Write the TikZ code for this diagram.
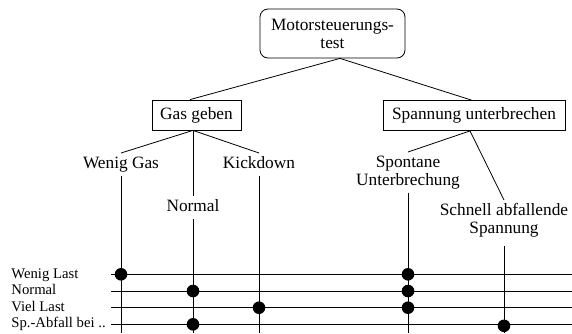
\documentclass[tikz,border=0pt]{standalone}
\usepackage{fontspec}
\setmainfont{Liberation Serif}
\begin{document}
\begin{tikzpicture}[x=1pt,y=-1pt,line width=0.8pt,
  every node/.style={font=\fontsize{17.3}{18}\selectfont},
  topbox/.style={draw,rounded corners=8pt,align=center,minimum width=145pt,minimum height=49pt,inner sep=0pt},
  midbox/.style={draw,minimum height=30pt,inner sep=0pt},
  leaf/.style={anchor=north,align=center,inner xsep=0pt,inner ysep=2pt},
  rowlabel/.style={anchor=base west,inner sep=0pt,font=\fontsize{14.7}{15}\selectfont},
  rowline/.style={line width=0.8pt},
  dot/.style={fill=black}]
\useasboundingbox (0,0) rectangle (572,333);
\node[topbox] (top) at (332.5,33.5) {Motorsteuerungs-\\test};
\node[midbox,minimum width=89pt] (gas) at (196.5,115) {Gas geben};
\node[midbox,minimum width=182pt] (span) at (474,115.5) {Spannung unterbrechen};
\node[leaf] (wg) at (121,153) {\strut Wenig Gas};
\node[leaf] (no) at (193,196) {\strut Normal};
\node[leaf] (kd) at (259,153) {\strut Kickdown};
\node[leaf] (sp) at (408,152) {\strut Spontane\\\strut Unterbrechung};
\node[leaf] (sa) at (504,200) {\strut Schnell abfallende\\\strut Spannung};
\coordinate (tj) at ([xshift=7.5pt]top.south);
\coordinate (gtop) at ([xshift=-6.5pt]gas.north);
\coordinate (gbot) at ([xshift=-3.5pt]gas.south);
\coordinate (stop) at ([xshift=-2.5pt]span.north);
\coordinate (sbot) at ([xshift=-4pt]span.south);
\draw (tj) -- (gtop);
\draw (tj) -- (stop);
\draw (gbot) -- (wg.north);
\draw (gbot) -- (no.north);
\draw (gbot) -- (kd.north);
\draw (sbot) -- (sp.north);
\draw (sbot) -- (sa.north);
\coordinate (bot) at (0,333);
\draw (wg.south) -- (wg.south |- bot);
\draw (no.south) -- (no.south |- bot);
\draw (kd.south) -- (kd.south |- bot);
\draw (sp.south) -- (sp.south |- bot);
\draw ([yshift=-5pt]sa.south) -- (sa.south |- bot);
\node[rowlabel] (l1) at (11,278.3) {Wenig Last};
\node[rowlabel] (l2) at (11,294.5) {Normal};
\node[rowlabel] (l3) at (11,311.2) {Viel Last};
\node[rowlabel] (l4) at (11,327.8) {Sp.-Abfall bei ..};
\coordinate (r1) at (111,274.3); \coordinate (r1e) at (572,274.3);
\coordinate (r2) at (111,291); \coordinate (r2e) at (572,291);
\coordinate (r3) at (111,307.7); \coordinate (r3e) at (572,307.7);
\coordinate (r4) at (111,324.3); \coordinate (r4e) at (572,324.3);
\draw[rowline] (r1) -- (r1e);
\draw[rowline] (r2) -- (r2e);
\draw[rowline] (r3) -- (r3e);
\draw[rowline] (r4) -- (r4e);
\fill[dot] (wg.south |- r1) circle (6.3pt);
\fill[dot] (no.south |- r2) circle (6.3pt);
\fill[dot] (kd.south |- r3) circle (6.3pt);
\fill[dot] (no.south |- r4) circle (6.3pt);
\fill[dot] (sp.south |- r1) circle (6.3pt);
\fill[dot] (sp.south |- r2) circle (6.3pt);
\fill[dot] (sp.south |- r3) circle (6.3pt);
\fill[dot] ([yshift=-1.5pt]sa.south |- r4) circle (6.3pt);
\end{tikzpicture}
\end{document}
